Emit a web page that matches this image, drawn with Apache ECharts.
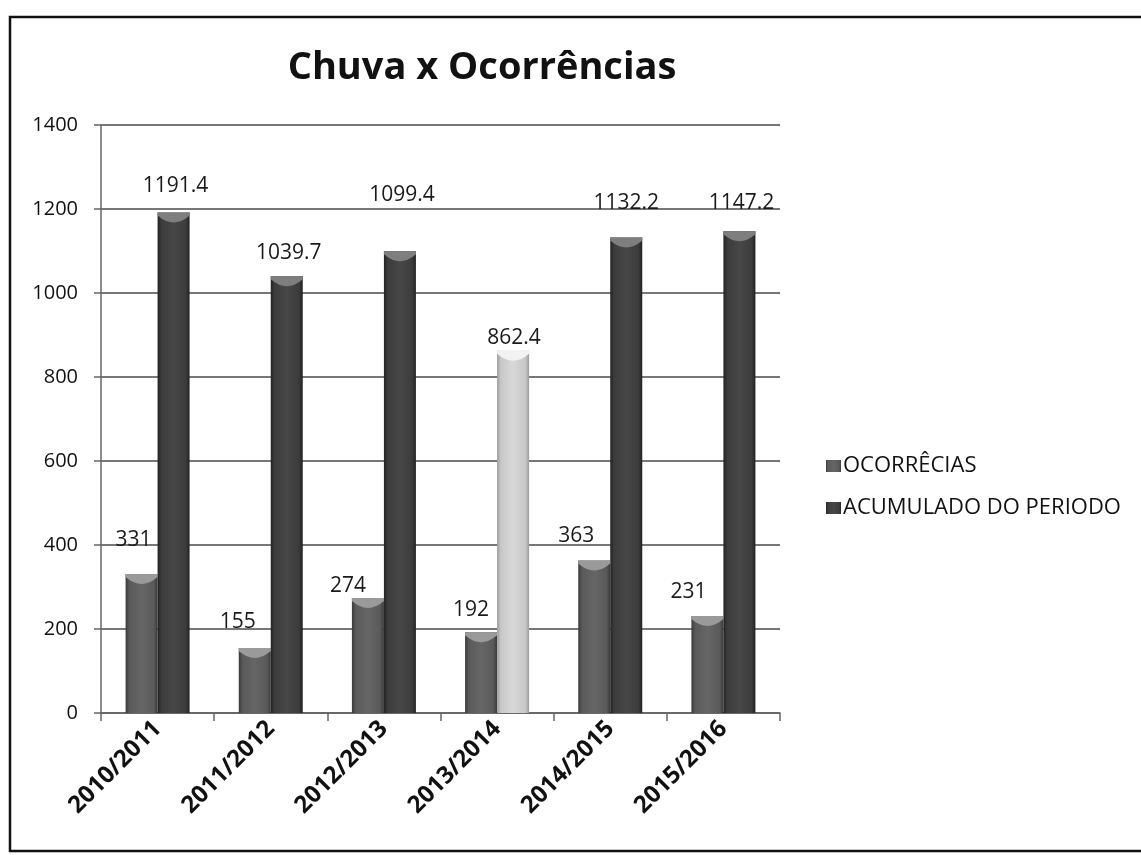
<!DOCTYPE html>
<html>
<head>
<meta charset="utf-8">
<script src="https://cdn.jsdelivr.net/npm/echarts@6/dist/echarts.min.js"></script>
<style>
  html, body { margin: 0; padding: 0; background: #ffffff; }
  #chart { width: 1141px; height: 855px; }
</style>
</head>
<body>
<div id="chart"></div>
<script>
// ---- data ----
const categories = ['2010/2011', '2011/2012', '2012/2013', '2013/2014', '2014/2015', '2015/2016'];
const ocorrencias = [331, 155, 274, 192, 363, 231];
const acumulado = [1191.4, 1039.7, 1099.4, 862.4, 1132.2, 1147.2];
const seriesNames = ['OCORRÊCIAS', 'ACUMULADO DO PERIODO'];
const yTicks = { min: 0, max: 1400, interval: 200 };
const chartTitle = 'Chuva x Ocorrências';

// ---- layout / style (not data) ----
const lightBarCategory = '2013/2014';
// label nudges (dx, dy) imitating the manual label placement of the original
const occLabelNudge = [[-8, -18], [-17, -10], [-20, 4], [-10, -7], [-18, -9], [-19, -8]];
const accLabelNudge = [[2, -11], [2, -8], [2, -41], [1, 3], [0, -19], [2, -13]];

function hGrad(edge, mid, center) {
  return new echarts.graphic.LinearGradient(0, 0, 1, 0, [
    { offset: 0, color: edge },
    { offset: 0.12, color: mid },
    { offset: 0.5, color: center },
    { offset: 0.88, color: mid },
    { offset: 1, color: edge }
  ]);
}
const occColor = hGrad('#3a3a3a', '#5a5a5a', '#666666');
const accColor = hGrad('#222222', '#3c3c3c', '#474747');
const lightColor = hGrad('#9c9c9c', '#c8c8c8', '#d8d8d8');
const occCap = '#9a9a9a';
const accCap = '#7e7e7e';
const lightCap = '#f2f2f2';
const capPath = 'path://M0,0 L32,0 L32,3 Q16,17 0,3 Z';

const labelFont = { fontFamily: 'Open Sans', fontSize: 21, color: '#1a1a1a' };

const occData = ocorrencias.map((v, i) => ({
  value: v,
  label: { offset: occLabelNudge[i] }
}));
const accData = acumulado.map((v, i) => ({
  value: v,
  itemStyle: categories[i] === lightBarCategory ? { color: lightColor } : undefined,
  label: { offset: accLabelNudge[i] }
}));
const accCapData = acumulado.map((v, i) => ({
  value: v,
  itemStyle: { color: categories[i] === lightBarCategory ? lightCap : accCap }
}));

const capSeries = (name, data, color) => ({
  name: name,
  type: 'pictorialBar',
  data: data,
  barWidth: 32,
  barGap: '0%',
  symbol: capPath,
  symbolSize: [32, 10],
  symbolPosition: 'end',
  symbolOffset: [0, 0],
  itemStyle: { color: color },
  silent: true,
  z: 3,
  legendHoverLink: false
});

const chart = echarts.init(document.getElementById('chart'), null, { renderer: 'canvas' });
chart.setOption({
  animation: false,
  backgroundColor: '#ffffff',
  title: {
    text: chartTitle,
    left: 477,
    top: 44,
    textAlign: 'center',
    textStyle: { fontFamily: 'Open Sans', fontWeight: 'bold', fontSize: 38, color: '#111111' }
  },
  legend: {
    orient: 'vertical',
    left: 821,
    top: 450,
    itemWidth: 15,
    itemHeight: 12,
    itemGap: 20,
    icon: 'rect',
    data: seriesNames,
    textStyle: { fontFamily: 'Open Sans', fontSize: 22, color: '#111111', padding: [0, 0, 0, -3] }
  },
  grid: { left: 101, right: 361, top: 125, bottom: 142, containLabel: false },
  xAxis: {
    type: 'category',
    data: categories,
    axisLine: { lineStyle: { color: '#666666', width: 1.5 } },
    axisTick: { show: true, length: 8, alignWithLabel: false, lineStyle: { color: '#666666', width: 1.5 } },
    axisLabel: {
      rotate: 45,
      margin: 12,
      interval: 0,
      fontFamily: 'Open Sans',
      fontWeight: 'bold',
      fontSize: 24,
      color: '#111111'
    }
  },
  yAxis: {
    type: 'value',
    min: yTicks.min,
    max: yTicks.max,
    interval: yTicks.interval,
    axisLine: { show: true, lineStyle: { color: '#666666', width: 1.5 } },
    axisTick: { show: true, length: 7, lineStyle: { color: '#666666', width: 1.5 } },
    axisLabel: { margin: 23, fontFamily: 'Open Sans', fontSize: 20, color: '#111111', formatter: (v) => String(v) },
    splitLine: { show: true, lineStyle: { color: '#4a4a4a', width: 1.5 } }
  },
  series: [
    {
      name: seriesNames[0],
      type: 'bar',
      data: occData,
      barWidth: 32,
      barGap: '0%',
      itemStyle: { color: occColor },
      label: Object.assign({ show: true, position: 'top', distance: 5 }, labelFont)
    },
    {
      name: seriesNames[1],
      type: 'bar',
      data: accData,
      barWidth: 32,
      barGap: '0%',
      itemStyle: { color: accColor },
      label: Object.assign({ show: true, position: 'top', distance: 5 }, labelFont)
    },
    capSeries('capOcc', ocorrencias, occCap),
    capSeries('capAcc', accCapData, accCap)
  ],
  graphic: [
    {
      type: 'rect',
      shape: { x: 10, y: 17, width: 1145, height: 834 },
      style: { fill: 'none', stroke: '#111111', lineWidth: 2.5 },
      silent: true,
      z: 100
    }
  ]
});
</script>
</body>
</html>
